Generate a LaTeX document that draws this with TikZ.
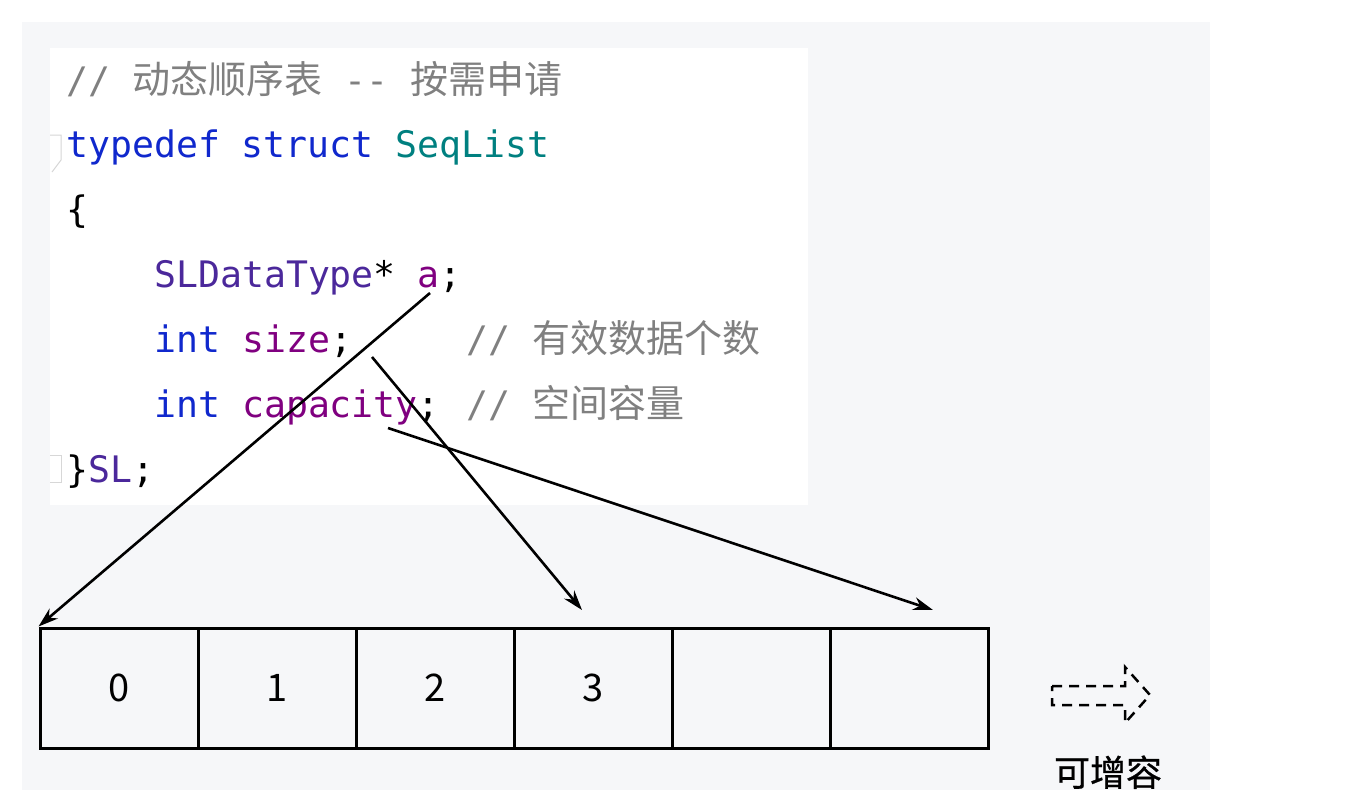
\documentclass[tikz,border=0pt]{standalone}
\usepackage{fontspec}
\usetikzlibrary{arrows.meta}
\newfontfamily\codefont{DejaVu Sans Mono}
\newfontfamily\cjkfont{Noto Sans CJK SC}
\newfontfamily\cjkbold[FakeBold=0.7]{Noto Sans CJK SC}
\definecolor{panelgray}{RGB}{246,247,249}
\definecolor{foldgray}{RGB}{215,215,215}
\definecolor{kwblue}{RGB}{16,40,205}
\definecolor{typeteal}{RGB}{0,128,128}
\definecolor{typepurple}{RGB}{75,40,155}
\definecolor{varpurple}{RGB}{128,0,128}
\definecolor{cmtgray}{RGB}{128,128,128}
\newcommand{\kw}[1]{\textcolor{kwblue}{#1}}
\newcommand{\zh}[1]{{\cjkfont\fontsize{38}{40}\selectfont #1}}
\tikzset{
	codeline/.style={anchor=base west, inner sep=0pt, font=\codefont\fontsize{36.5}{40}\selectfont},
	cmt/.style={codeline, text=cmtgray},
	cell/.style={draw, line width=3pt, minimum width=158pt, minimum height=120pt, inner sep=0pt, font=\cjkfont\fontsize{38}{40}\selectfont},
	ptr/.style={-{Stealth[length=20pt,width=13pt]}, line width=2.6pt},
}
\begin{document}
\begin{tikzpicture}[x=1pt, y=-1pt]
		\useasboundingbox (0,0) rectangle (1358,790);
		\fill[white] (0,0) rectangle (1358,790);
		\fill[panelgray] (22,22) rectangle (1210,790);
		\fill[white] (50,48) rectangle (808,505);

		% Codice
		\draw[foldgray, line width=1pt] (50,135) -- (61,135) -- (61,160) -- (52,172);
		\draw[foldgray, line width=1pt] (50,455) -- (61,455) -- (61,482) -- (50,482);
		\node[cmt] (l1) at (66,93) {// \zh{动态顺序表} -- \zh{按需申请}};
		\node[codeline] (l2) at (66,157) {\kw{typedef} \kw{struct} \textcolor{typeteal}{SeqList}};
		\node[codeline] (l3) at (66,222) {\{};
		\node[codeline] (l4) at (154,287) {\textcolor{typepurple}{SLDataType}* \textcolor{varpurple}{a};};
		\node[codeline] (l5) at (154,352) {\kw{int} \textcolor{varpurple}{size};};
		\node[cmt] (c5) at (466,352) {// \zh{有效数据个数}};
		\node[codeline] (l6) at (154,417) {\kw{int} \textcolor{varpurple}{capacity};};
		\node[cmt] (c6) at (466,417) {// \zh{空间容量}};
		\node[codeline] (l7) at (66,482) {\}\textcolor{typepurple}{SL};};

		% Array
		\node[cell] (a0) at (119,688) {0};
		\node[cell] (a1) at (277,688) {1};
		\node[cell] (a2) at (435,688) {2};
		\node[cell] (a3) at (593,688) {3};
		\node[cell] (a4) at (751,688) {};
		\node[cell] (a5) at (909,688) {};

		% Puntatori
		\coordinate (pa) at (430,293);
		\coordinate (psize) at (372,357);
		\coordinate (pcap) at (388,428);
		\coordinate (esize) at (582,610);
		\coordinate (ecap) at (933,610);
		\draw[ptr] (pa) -- (a0.north west);
		\draw[ptr] (psize) -- (esize);
		\draw[ptr] (pcap) -- (ecap);

		% Crescita
		\draw[line width=2.5pt, dash pattern=on 10pt off 7pt] (1052,686) -- (1125,686) -- (1125,667) -- (1150,695) -- (1125,723) -- (1125,705) -- (1052,705) -- cycle;
		\node[anchor=base, inner sep=0pt, font=\cjkbold\fontsize{36}{40}\selectfont] (grow) at (1108,786) {可增容};
	\end{tikzpicture}
\end{document}
